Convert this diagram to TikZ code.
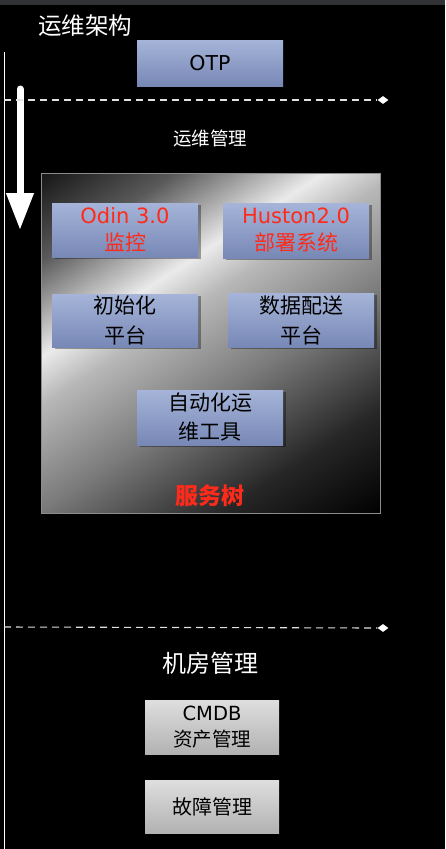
\documentclass[tikz,border=0pt]{standalone}
\usepackage{fontspec}
\setmainfont{DejaVu Sans}
\newfontfamily\cjk{Noto Sans CJK SC}
\usetikzlibrary{arrows.meta,shapes.geometric,shadows}
\definecolor{bluetop}{HTML}{A5B4D8}
\definecolor{bluebot}{HTML}{7888B6}
\definecolor{redtxt}{HTML}{FF2A1A}
\definecolor{graytop}{HTML}{DEDEDE}
\definecolor{graybot}{HTML}{B2B2B2}
\definecolor{topbar}{HTML}{303236}
\definecolor{dashcol}{HTML}{E0E0E0}
\pgfdeclarehorizontalshading{bigshade}{100bp}{color(0bp)=(black!92!white); color(15bp)=(black!92!white); color(26bp)=(black!65!white); color(38bp)=(black!8!white); color(44bp)=(black!28!white); color(57bp)=(black!52!white); color(72bp)=(black!85!white); color(85bp)=(black); color(100bp)=(black)}
\begin{document}
\begin{tikzpicture}[x=1pt,y=-1pt,
  whitetxt/.style={text=white, inner sep=0pt},
  bluebox/.style={rectangle, inner sep=0pt, top color=bluetop, bottom color=bluebot, align=center, text=black,
    minimum width=146pt, font=\fontsize{21}{27}\selectfont,
    drop shadow={shadow xshift=2.5pt, shadow yshift=-2pt, fill=black, opacity=0.35}},
  graybox/.style={rectangle, inner sep=0pt, top color=graytop, bottom color=graybot, align=center, text=black,
    minimum width=134pt, font=\fontsize{19.5}{26}\selectfont},
  dashline/.style={draw=dashcol, line width=1.1pt, dash pattern=on 7pt off 5pt},
  endmark/.style={diamond, fill=white, inner sep=0pt, minimum width=11pt, minimum height=8pt},
]
\useasboundingbox (0,0) rectangle (445,849);
\fill[black] (0,0) rectangle (445,849);
\fill[topbar] (0,0) rectangle (445,5);

% title and OTP
\node[whitetxt, font=\cjk\fontsize{23.5}{28}\selectfont] (title) at (85,26) {运维架构};
\node[bluebox, drop shadow={opacity=0}, minimum height=46pt, font=\fontsize{20.5}{24}\selectfont] (otp) at (210,63) {OTP};

% left vertical line and big arrow
\coordinate (vtop) at (4,52);
\coordinate (vbot) at (4,849);
\draw[white, line width=1pt] (vtop) -- (vbot);
\coordinate (arrtop) at (20,89);
\coordinate (arrtip) at (20,230);
\draw[white, line width=7pt, line cap=round, -{Triangle[width=26pt,length=37pt]}] (arrtop) -- (arrtip);

% dashed separators
\coordinate (d1s) at (4,100);
\node[endmark] (d1) at (383,100) {};
\draw[dashline] (d1s) -- (d1.west);
\coordinate (d2s) at (4,627);
\node[endmark] (d2) at (383,628) {};
\draw[dashline] (d2s) -- (d2.west);

\node[whitetxt, font=\cjk\fontsize{18.5}{22}\selectfont] (mgmt) at (210,138) {运维管理};

% service tree box
\node[rectangle, draw=black!45!white, line width=1pt, shading=bigshade, shading angle=-57,
  minimum width=339pt, minimum height=340pt, inner sep=0pt] (big) at (210.5,343) {};

\node[bluebox, minimum height=54pt, text=redtxt] (odin) at (125,230) {Odin 3.0\\{\cjk 监控}};
\node[bluebox, minimum height=55pt, text=redtxt] (huston) at (296,230.5) {Huston2.0\\{\cjk 部署系统}};
\node[bluebox, minimum height=53pt, font=\cjk\fontsize{21}{30}\selectfont] (init) at (125,320.5) {初始化\\平台};
\node[bluebox, minimum height=54pt, font=\cjk\fontsize{21}{30}\selectfont] (data) at (301,320) {数据配送\\平台};
\node[bluebox, minimum height=55pt, font=\cjk\fontsize{21}{29}\selectfont] (auto) at (210,417.5) {自动化运\\维工具};
\node[inner sep=0pt, text=redtxt, font=\cjk\bfseries\fontsize{23}{28}\selectfont] (tree) at (210,496) {服务树};

% machine room
\node[whitetxt, font=\cjk\fontsize{24}{28}\selectfont] (room) at (210,663) {机房管理};
\node[graybox, minimum height=54pt] (cmdb) at (212,727) {CMDB\\{\cjk 资产管理}};
\node[graybox, minimum height=53pt, font=\cjk\fontsize{20}{26}\selectfont] (fault) at (212,806.5) {故障管理};
\end{tikzpicture}
\end{document}
